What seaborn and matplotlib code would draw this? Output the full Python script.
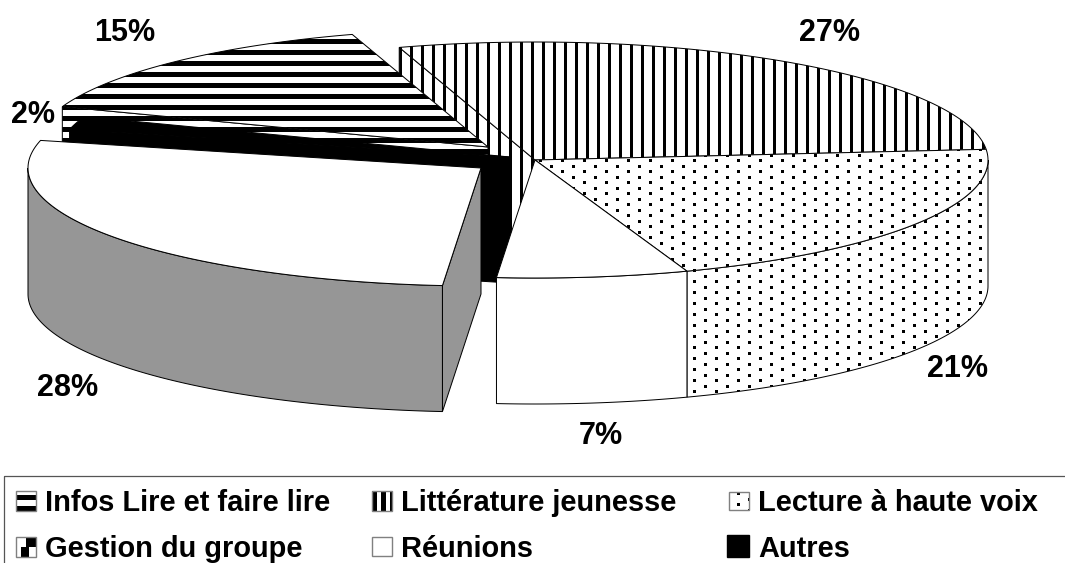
import matplotlib
matplotlib.use("Agg")
import matplotlib.pyplot as plt
import numpy as np
import seaborn as sns
from matplotlib.patches import Polygon, Rectangle

# slices clockwise, shares as measured on the drawing
categories = ["Infos Lire et faire lire", "Littérature jeunesse", "Lecture à haute voix",
              "Réunions", "Gestion du groupe", "Autres"]
shares = [14.6, 28.4, 21.0, 6.8, 27.4, 1.8]
printed = ["15%", "27%", "21%", "7%", "28%", "2%"]
legend_order = [0, 1, 2, 4, 3, 5]

W, H = 1065, 563
A, B, DEPTH = 453, 118, 126
START = 160.0

# centre of every slice, the exploded ones are shifted
centers = [(488, 147), (535, 160), (535, 160), (535, 160), (481, 168), (510, 157)]
label_xy = [(125, 33), (829, 33), (957, 369), (601, 436), (68, 388), (33, 115)]
key_box = [(16, 491, 20, 20), (372, 491, 20, 20), (729, 492, 20, 18),
           (16, 537, 20, 20), (372, 537, 20, 19), (727, 535, 22, 22)]
text_x = [45, 401, 758, 45, 401, 758]
text_y = [503, 503, 503, 549, 549, 549]

sns.set_theme(style="white")
plt.rcParams["font.family"] = ["Liberation Sans", "DejaVu Sans"]
grey = sns.color_palette(["#969696"])[0]

fig = plt.figure(figsize=(W / 100, H / 100), dpi=100)
ax = fig.add_axes([0, 0, 1, 1])
ax.set_axis_off()

yy, xx = np.indices((H, W))
stripes_h = np.where((yy - 6) % 11 < 5, 0.0, 1.0)
stripes_v = np.where((xx - 3) % 11 < 3, 0.0, 1.0)
dots = np.where(((xx % 22 < 3) & (yy % 11 < 3)) | ((xx % 22 >= 11) & (xx % 22 < 14) & ((yy + 6) % 11 < 3)), 0.0, 1.0)

# the legend keys have their own coarser patterns
key_h = np.roll(stripes_h, 5, axis=0)
key_v = np.where((xx - 372) % 9 < 5, 0.0, 1.0)
key_dots = np.roll(dots, 3, axis=0)
key_gestion = np.ones((H, W))
key_gestion[537:547, 26:36] = 0.0
key_gestion[547:557, 21:29] = 0.0

order = 1


def face(points, fill, lw=1.0, edge="black"):
    global order
    order += 1
    if isinstance(fill, np.ndarray):
        patch = Polygon(points, closed=True, fc="white", ec="none", zorder=order)
        ax.add_patch(patch)
        im = ax.imshow(fill, cmap="gray", vmin=0, vmax=1, extent=(0, W, H, 0),
                       interpolation="nearest", aspect="auto", zorder=order)
        im.set_clip_path(patch)
    else:
        ax.add_patch(Polygon(points, closed=True, fc=fill, ec="none", zorder=order))
    ax.add_patch(Polygon(points, closed=True, fc="none", ec=edge, lw=lw * 0.72, zorder=order))


def rim(i, t0, t1):
    t = np.radians(np.linspace(t0, t1, 120))
    cx, cy = centers[i]
    return np.column_stack([cx + A * np.cos(t), cy - B * np.sin(t)])


def top(i, t0, t1):
    return np.vstack([[centers[i]], rim(i, t0, t1)])


def wall(i, t0, t1):
    r = rim(i, t0, t1)
    return np.vstack([r, r[::-1] + [0, DEPTH]])


def cut(i, t):
    c = np.array([centers[i]], dtype=float)
    r = rim(i, t, t)[:1]
    return np.vstack([c, r, r + [0, DEPTH], c + [0, DEPTH]])


# slice limits from the shares
edges = START - np.concatenate([[0], np.cumsum(shares)]) * 3.6

# back to front, outer walls only on the front half of the ellipse
face(cut(1, edges[1]), stripes_v)
face(top(1, edges[1], edges[2]), stripes_v)
face(wall(2, min(edges[2], 0), edges[3]), dots)
face(top(2, edges[2], edges[3]), dots)
face(cut(0, edges[0]), stripes_h)
face(top(0, edges[0], edges[1]), stripes_h)
face(cut(5, edges[5]), "black")
face(top(5, edges[5], edges[6]), "black")
face(wall(4, edges[4], max(edges[5], -180)), grey)
face(cut(4, edges[4]), grey)
face(top(4, edges[4], edges[5]), "white")
face(wall(3, edges[3], edges[4]), "white")
face(top(3, edges[3], edges[4]), "white")

for txt, (x, y) in zip(printed, label_xy):
    ax.text(x, y, txt, ha="center", va="center", fontsize=22, fontweight="bold", color="black", zorder=50)

# legend box runs off the page at right and bottom
ax.add_patch(Rectangle((3.5, 476), W, 120, fc="none", ec="#555555", lw=0.9, zorder=50))
key_fill = [key_h, key_v, key_dots, key_gestion, "white", "black"]
order = 60
for n, i in enumerate(legend_order):
    x, y, w, h = key_box[n]
    pts = [(x, y), (x + w, y), (x + w, y + h), (x, y + h)]
    face(pts, key_fill[n], lw=1.4, edge="#808080" if n != 5 else "black")
    ax.text(text_x[n], text_y[n], categories[i], ha="left", va="center", fontsize=20.9,
            fontweight="bold", color="black", zorder=70)

ax.set_xlim(0, W)
ax.set_ylim(H, 0)
fig.savefig("out.png", dpi=100)
